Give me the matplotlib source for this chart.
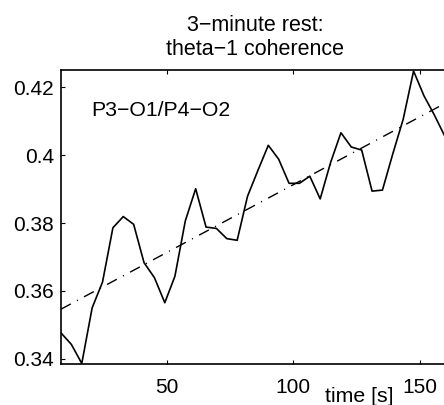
import numpy as np
import matplotlib
matplotlib.use('Agg')
import matplotlib.pyplot as plt

plt.rcParams['font.family'] = ['Liberation Sans', 'DejaVu Sans']

# --- data ---
time_s = [8.2, 12.3, 16.4, 20.5, 24.6, 28.7, 32.8, 36.9, 41.0, 45.1,
          49.2, 53.2, 57.3, 61.4, 65.5, 69.6, 73.7, 77.8, 81.9, 86.0,
          90.1, 94.2, 98.3, 102.4, 106.5, 110.6, 114.7, 118.8, 122.9, 127.0,
          131.1, 135.2, 139.3, 143.4, 147.5, 151.6, 155.6, 159.7]
coherence = [0.3476, 0.3442, 0.3386, 0.3550, 0.3626, 0.3786, 0.3819, 0.3796, 0.3683, 0.3639,
             0.3565, 0.3643, 0.3806, 0.3901, 0.3788, 0.3784, 0.3754, 0.3749, 0.3879, 0.3955,
             0.4029, 0.3988, 0.3917, 0.3917, 0.3938, 0.3871, 0.3978, 0.4066, 0.4024, 0.4015,
             0.3894, 0.3897, 0.4004, 0.4106, 0.4248, 0.4175, 0.4120, 0.4058]

trend_x = [8.19, 161.5]
trend_y = [0.3546, 0.4159]

xticks = [50, 100, 150]
yticks = [0.34, 0.36, 0.38, 0.40, 0.42]
ytick_labels = ['0.34', '0.36', '0.38', '0.4', '0.42']

W, H = 444, 405
fig = plt.figure(figsize=(W / 100, H / 100), dpi=100)
# axes runs a little past the right edge of the picture (cropped original)
ax = fig.add_axes([61 / W, 41 / H, 388 / W, 294 / H])

ax.plot(time_s, coherence, color='black', lw=1.2)
ax.plot(trend_x, trend_y, color='black', lw=1.0, linestyle=(0, (8, 5, 0.8, 5)))

ax.set_xlim(8.19, 161.5)
ax.set_ylim(0.33844, 0.4251)
ax.set_xticks(xticks)
ax.set_yticks(yticks)
ax.set_yticklabels(ytick_labels)
ax.tick_params(direction='in', length=3, width=0.8, labelsize=15,
               top=True, right=True, colors='black')
ax.tick_params(axis='x', pad=10)
ax.tick_params(axis='y', pad=5)
for sp in ax.spines.values():
    sp.set_linewidth(1.2)

ax.text(20.2, 0.4132, 'P3\u2212O1/P4\u2212O2', fontsize=15.3, va='center', ha='left')

ax.set_title('3\u2212minute rest:\ntheta\u22121 coherence', fontsize=15.5,
             pad=11, linespacing=1.2)
fig.text(359 / W, 3 / H, 'time [s]', fontsize=15.3, ha='center', va='baseline')

fig.savefig('out.png', dpi=100)
